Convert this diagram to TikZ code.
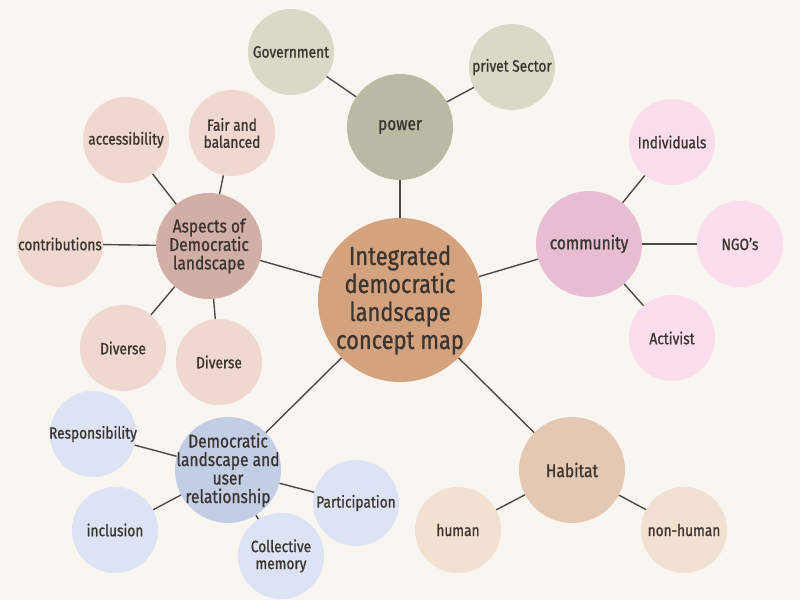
\documentclass[tikz,border=0pt]{standalone}
\usepackage{fontspec}
\setmainfont[FakeStretch=0.84, FakeBold=0.9]{Fira Sans}
\definecolor{bg}{HTML}{F9F5F0}
\definecolor{txt}{HTML}{3A3530}
\definecolor{cmain}{HTML}{D5A27E}
\definecolor{cpow}{HTML}{BAB9A3}
\definecolor{lpow}{HTML}{D8D9C6}
\definecolor{ccom}{HTML}{E6BDD3}
\definecolor{lcom}{HTML}{FCDDEB}
\definecolor{chab}{HTML}{E3C9B3}
\definecolor{lhab}{HTML}{F2E1D1}
\definecolor{cdem}{HTML}{C3CEE5}
\definecolor{ldem}{HTML}{DCE3F4}
\definecolor{casp}{HTML}{D2AFA6}
\definecolor{lasp}{HTML}{F0D7CF}
\tikzset{
  hub/.style={circle, minimum size=106pt, inner sep=-14pt, align=center, text=txt, font=\fontsize{18.5}{18.5}\selectfont},
  leaf/.style={circle, minimum size=86pt, inner sep=-12pt, align=center, text=txt, font=\fontsize{16.3}{17}\selectfont},
  link/.style={draw=txt!90, line width=1.4pt}
}
\begin{document}
\begin{tikzpicture}[x=1pt,y=-1pt]
\fill[bg] (0,0) rectangle (800,600);
\useasboundingbox (0,0) rectangle (800,600);
% nodes
\node[circle, minimum size=164pt, inner sep=-14pt, align=center, text=txt, fill=cmain, font=\fontsize{26}{28}\selectfont] (c) at (400,300) {Integrated\\democratic\\landscape\\concept map};
\node[hub, fill=cpow] (pow) at (400,127) {power};
\node[leaf, fill=lpow] (gov) at (291,52) {Government};
\node[leaf, fill=lpow] (priv) at (512,67) {privet Sector};
\node[hub, fill=ccom] (com) at (589,244) {community};
\node[leaf, fill=lcom] (ind) at (672,142) {Individuals};
\node[leaf, fill=lcom] (ngo) at (740,244) {NGO's};
\node[leaf, fill=lcom] (act) at (672,338) {Activist};
\node[hub, fill=chab] (hab) at (572,470) {Habitat};
\node[leaf, fill=lhab] (hum) at (458,530) {human};
\node[leaf, fill=lhab] (nhum) at (684,530) {non-human};
\node[hub, fill=cdem] (dem) at (228,470) {Democratic\\landscape and\\user\\relationship};
\node[leaf, fill=ldem] (resp) at (93,434) {Responsibility};
\node[leaf, fill=ldem] (incl) at (115,530) {inclusion};
\node[leaf, fill=ldem] (coll) at (281,556) {Collective\\memory};
\node[leaf, fill=ldem] (part) at (356,503) {Participation};
\node[hub, fill=casp] (asp) at (209,246) {Aspects of\\Democratic\\landscape};
\node[leaf, fill=lasp] (acc) at (126,140) {accessibility};
\node[leaf, fill=lasp] (fair) at (232,133) {Fair and\\balanced};
\node[leaf, fill=lasp] (contr) at (60,244) {contributions};
\node[leaf, fill=lasp] (div1) at (123,348) {Diverse};
\node[leaf, fill=lasp] (div2) at (219,362) {Diverse};
% links
\draw[link] (c) -- (pow);
\draw[link] (c) -- (com);
\draw[link] (c) -- (hab);
\draw[link] (c) -- (dem);
\draw[link] (c) -- (asp);
\draw[link] (pow) -- (gov);
\draw[link] (pow) -- (priv);
\draw[link] (com) -- (ind);
\draw[link] (com) -- (ngo);
\draw[link] (com) -- (act);
\draw[link] (hab) -- (hum);
\draw[link] (hab) -- (nhum);
\draw[link] (dem) -- (resp);
\draw[link] (dem) -- (incl);
\draw[link] (dem) -- (coll);
\draw[link] (dem) -- (part);
\draw[link] (asp) -- (acc);
\draw[link] (asp) -- (fair);
\draw[link] (asp) -- (contr);
\draw[link] (asp) -- (div1);
\draw[link] (asp) -- (div2);
\end{tikzpicture}
\end{document}
